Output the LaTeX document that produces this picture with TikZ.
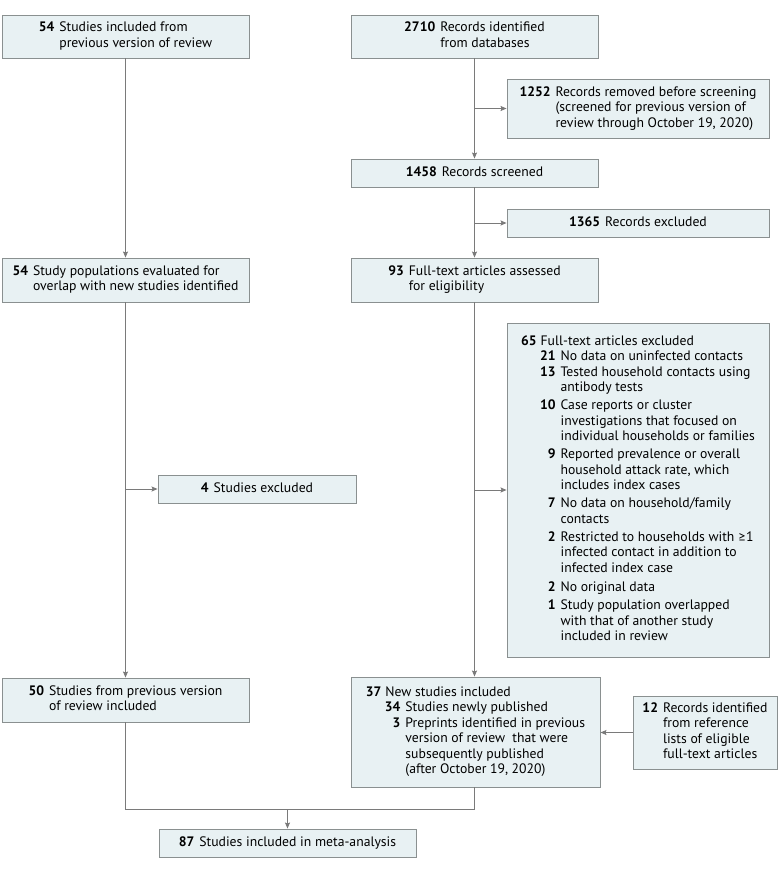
\documentclass[tikz,border=0pt]{standalone}
\usepackage{fontspec}
\setmainfont{PT Sans}
\newfontfamily\symfont{Lato}
\usetikzlibrary{arrows.meta}
\definecolor{boxfill}{HTML}{E8F1F3}
\definecolor{boxline}{HTML}{8A9090}
\definecolor{connc}{HTML}{7A7A7A}
\newcommand{\nb}[1]{\textbf{#1}}
\newcommand{\sn}[1]{\makebox[15pt][r]{\textbf{#1}}}
\tikzset{
  box/.style={draw=boxline, fill=boxfill, line width=0.9pt, inner sep=0pt, anchor=center,
    font=\fontsize{13.7}{15.5}\selectfont},
  wh/.style 2 args={minimum width=#1pt, minimum height=#2pt},
  conn/.style={draw=connc, line width=1pt},
  arr/.style={conn, -{Stealth[length=6pt,width=5pt,inset=1pt]}},
}
\begin{document}
\begin{tikzpicture}[x=1pt,y=-1pt]
\useasboundingbox (0,0) rectangle (780,870);

\node[box, wh={247}{43}] (b1) at (125.5,36.5) {\begin{tabular}{@{}r@{\hspace{5pt}}l@{}}\nb{54} & Studies included from\\ & previous version of review\end{tabular}};
\node[box, wh={247}{43}] (b2) at (474.5,36.5) {\begin{tabular}{@{}r@{\hspace{5pt}}l@{}}\nb{2710} & Records identified\\ & from databases\end{tabular}};
\node[box, wh={262}{59}] (b3) at (638,108.5) {\begin{tabular}{@{}r@{\hspace{5pt}}l@{}}\nb{1252} & Records removed before screening\\ & (screened for previous version of\\ & review through October 19, 2020)\end{tabular}};
\node[box, wh={247}{28}] (b4) at (474.5,173) {\begin{tabular}{@{}r@{\hspace{5pt}}l@{}}\nb{1458} & Records screened\end{tabular}};
\node[box, wh={262}{28}] (b5) at (638,223) {\begin{tabular}{@{}r@{\hspace{5pt}}l@{}}\nb{1365} & Records excluded\end{tabular}};
\node[box, wh={247}{44}] (b6) at (474.5,280) {\begin{tabular}{@{}r@{\hspace{5pt}}l@{}}\nb{93} & Full-text articles assessed\\ & for eligibility\end{tabular}};
\node[box, wh={247}{44}] (b7) at (125.5,280) {\begin{tabular}{@{}r@{\hspace{5pt}}l@{}}\nb{54} & Study populations evaluated for\\ & overlap with new studies identified\end{tabular}};
\node[box, wh={262}{334}] (b8) at (638,490) {\begin{tabular}{@{}r@{\hspace{4pt}}l@{\hspace{5pt}}l@{}}
\nb{65} & \rlap{Full-text articles excluded} & \\
 & \sn{21} & No data on uninfected contacts\\
 & \sn{13} & Tested household contacts using\\
 & & antibody tests\\[2.5pt]
 & \sn{10} & Case reports or cluster\\
 & & investigations that focused on\\
 & & individual households or families\\[2.5pt]
 & \sn{9} & Reported prevalence or overall\\
 & & household attack rate, which\\
 & & includes index cases\\[2.5pt]
 & \sn{7} & No data on household/family\\
 & & contacts\\[2.5pt]
 & \sn{2} & Restricted to households with {\symfont ≥}1\\
 & & infected contact in addition to\\
 & & infected index case\\[4pt]
 & \sn{2} & No original data\\[2.5pt]
 & \sn{1} & Study population overlapped\\
 & & with that of another study\\
 & & included in review
\end{tabular}};
\node[box, wh={198}{28}] (b9) at (257,489) {\begin{tabular}{@{}r@{\hspace{5pt}}l@{}}\nb{4} & Studies excluded\end{tabular}};
\node[box, wh={247}{44}] (b10) at (125.5,700) {\begin{tabular}{@{}r@{\hspace{5pt}}l@{}}\nb{50} & Studies from previous version\\ & of review included\end{tabular}};
\node[box, wh={249}{110}] (b11) at (475.5,732) {\begin{tabular}{@{}r@{\hspace{4pt}}l@{\hspace{5pt}}l@{}}
\nb{37} & \rlap{New studies included} & \\
 & \sn{34} & Studies newly published\\
 & \sn{3} & Preprints identified in previous\\
 & & version of review\ \ that were\\
 & & subsequently published\\
 & & (after October 19, 2020)
\end{tabular}};
\node[box, wh={144}{73}] (b12) at (705,732.5) {\begin{tabular}{@{}r@{\hspace{5pt}}l@{}}\nb{12} & Records identified\\ & from reference\\ & lists of eligible\\ & full-text articles\end{tabular}};
\node[box, wh={257}{28}] (b13) at (287.5,843) {\begin{tabular}{@{}r@{\hspace{5pt}}l@{}}\nb{87} & Studies included in meta-analysis\end{tabular}};

% branch points
\coordinate (p3) at (b2.south |- b3.west);
\coordinate (p5) at (b2.south |- b5.west);
\coordinate (p8) at (b2.south |- b8.west);
\coordinate (p9) at (b1.south |- b9.west);
\coordinate (jl) at (125.5,809);
\coordinate (jr) at (474.5,809);
\coordinate (jm) at (b13.north |- jl);

\draw[arr] (b2.south) -- (b4.north);
\draw[arr] (b4.south) -- (b6.north);
\draw[arr] (b6.south) -- (b11.north -| b6.south);
\draw[arr] (b1.south) -- (b7.north);
\draw[arr] (b7.south) -- (b10.north);
\draw[arr] (p3) -- (b3.west);
\draw[arr] (p5) -- (b5.west);
\draw[arr] (p8) -- (b8.west);
\draw[arr] (p9) -- (b9.west);
\draw[arr] (b12.west) -- (b11.east |- b12.west);
\draw[conn] (b10.south) -- (jl) -- (jr) -- (b11.south -| jr);
\draw[arr] (jm) -- (b13.north);
\end{tikzpicture}
\end{document}
